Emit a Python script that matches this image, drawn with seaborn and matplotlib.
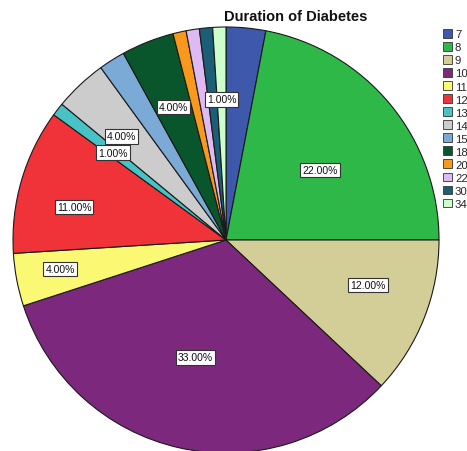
import numpy as np
import matplotlib
matplotlib.use("Agg")
import matplotlib.pyplot as plt
import seaborn as sns

# Duration of diabetes (years) and share of patients (%)
durations = ["7", "8", "9", "10", "11", "12", "13", "14", "15", "18", "20", "22", "30", "34"]
percents = [3, 22, 12, 33, 4, 11, 1, 4, 2, 4, 1, 1, 1, 1]
colors = ["#3E58AC", "#2EB848", "#D3CE97", "#7C287D", "#FBF873", "#EF3338", "#48C2C5",
          "#CCCCCC", "#7AAAD5", "#0A562C", "#F8981D", "#DDBAF1", "#1A5F76", "#CCFFCC"]

# Which slices get a value label: (radius fraction, angular nudge in degrees)
label_pos = {"8": (0.55, 3), "9": (0.70, -4), "10": (0.57, 2), "11": (0.79, 1),
             "12": (0.73, -4), "13": (0.67, 0), "14": (0.69, -2), "18": (0.67, 0),
             "34": (0.66, 0)}

sns.set_theme(style="white")
plt.rcParams["font.family"] = ["Liberation Sans", "DejaVu Sans"]

W, H = 467, 452
fig = plt.figure(figsize=(W / 100, H / 100), dpi=100)

cx, cy, r = 226, 241, 213
ax = fig.add_axes([(cx - r) / W, (H - cy - r) / H, 2 * r / W, 2 * r / H])
wedges, _ = ax.pie(percents, colors=colors, startangle=90, counterclock=False,
                   radius=1.0,
                   wedgeprops=dict(edgecolor="#1a1a1a", linewidth=0.8))
ax.set_xlim(-1, 1)
ax.set_ylim(-1, 1)
ax.set_aspect("equal")
ax.axis("off")

# Value labels
cum = np.cumsum([0] + percents)
for i, name in enumerate(durations):
    if name not in label_pos:
        continue
    rr, nudge = label_pos[name]
    mid = (cum[i] + cum[i + 1]) / 2 / 100 * 360 + nudge
    theta = np.deg2rad(90 - mid)
    ax.text(rr * np.cos(theta), rr * np.sin(theta), f"{percents[i]:.2f}%",
            ha="center", va="center", fontsize=7.5, color="#111111",
            bbox=dict(boxstyle="square,pad=0.2", facecolor="white",
                      edgecolor="#333333", linewidth=0.8))

fig.text(296 / W, 1 - 17 / H, "Duration of Diabetes", ha="center", va="center",
         fontsize=10.5, fontweight="bold", color="#111111")

leg = fig.legend(wedges, durations, loc="upper left",
                 bbox_to_anchor=(443 / W, 1 - 30 / H), frameon=False,
                 fontsize=8.2, handlelength=0.8, handleheight=0.8,
                 handletextpad=0.25, labelspacing=0.24, borderaxespad=0,
                 borderpad=0)
for h in leg.legend_handles:
    h.set_edgecolor("#333333")
    h.set_linewidth(0.6)

fig.savefig("out.png", dpi=100)
